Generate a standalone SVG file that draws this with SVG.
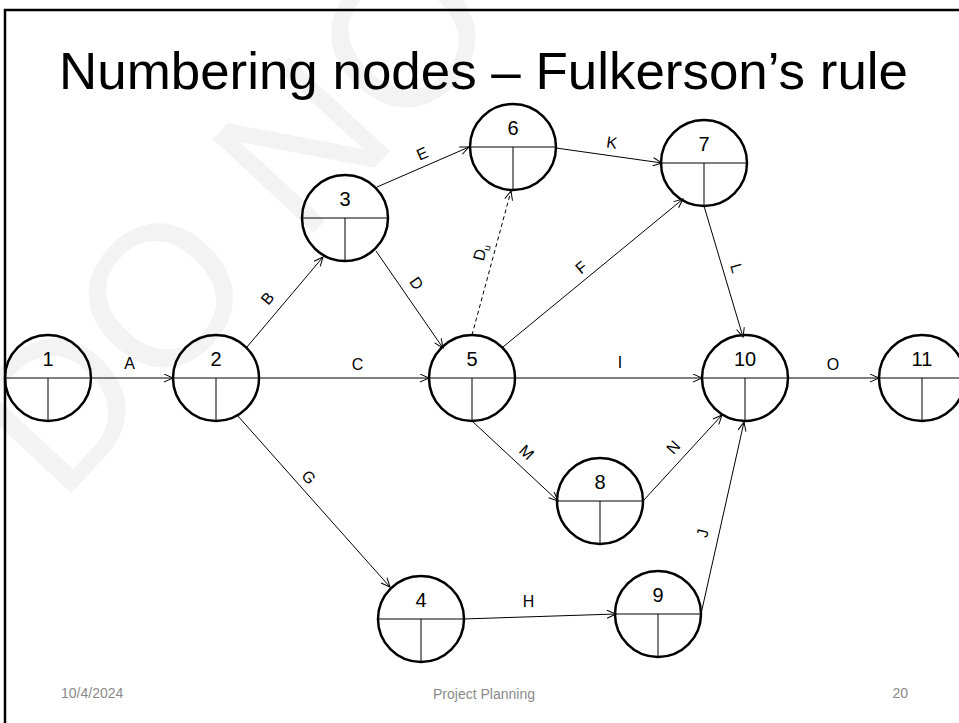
<svg xmlns="http://www.w3.org/2000/svg" width="959" height="723" viewBox="0 0 959 723">
<style>
.node circle{fill:none;stroke:#000;stroke-width:2.5}
.node line{stroke:#000;stroke-width:1}
.num{font-family:"Liberation Sans",Arial,sans-serif;font-size:20px;fill:#000;text-anchor:middle}
.edge{stroke:#000;stroke-width:1;fill:none;marker-end:url(#arr)}
.dash{stroke-dasharray:4,3}
.lbl{font-family:"Liberation Sans",Arial,sans-serif;font-size:16px;fill:#000;text-anchor:middle}
.foot{font-family:"Liberation Sans",Arial,sans-serif;font-size:14px;fill:#8a8a8a}
</style>
<defs>
<marker id="arr" markerUnits="userSpaceOnUse" markerWidth="12" markerHeight="10" refX="10" refY="4.5" orient="auto">
<path d="M1,0.5 L10,4.5 L1,8.5" fill="none" stroke="#000" stroke-width="1"/>
</marker>
</defs>
<rect width="959" height="723" fill="#fff"/>
<text transform="translate(60,505) rotate(-47)" font-family="'Liberation Sans',Arial,sans-serif" font-size="200" fill="#f3f3f3">DO NO</text>
<path d="M5,723 V10 H959" fill="none" stroke="#000" stroke-width="2.5"/>
<text x="59" y="89" font-family="'Liberation Sans',Arial,sans-serif" font-size="52" fill="#000" textLength="849" lengthAdjust="spacingAndGlyphs">Numbering nodes – Fulkerson’s rule</text>
<g id="connectors">
<line class="edge" x1="91" y1="378" x2="173" y2="378"/>
<line class="edge" x1="259" y1="378" x2="429" y2="378"/>
<line class="edge" x1="515" y1="378" x2="702" y2="378"/>
<line class="edge" x1="788" y1="378" x2="879" y2="378"/>
<line class="edge" x1="247" y1="347" x2="323" y2="257"/>
<line class="edge" x1="377" y1="187" x2="469" y2="147"/>
<line class="edge" x1="376" y1="251" x2="443" y2="348"/>
<line class="edge dash" x1="472" y1="335" x2="511" y2="191"/>
<line class="edge" x1="503" y1="347" x2="683" y2="199"/>
<line class="edge" x1="556" y1="148" x2="662" y2="163"/>
<line class="edge" x1="704" y1="206" x2="743" y2="337"/>
<line class="edge" x1="472" y1="421" x2="558" y2="501"/>
<line class="edge" x1="643" y1="501" x2="722" y2="415"/>
<line class="edge" x1="701" y1="614" x2="744" y2="422"/>
<line class="edge" x1="237" y1="415" x2="390" y2="587"/>
<line class="edge" x1="463" y1="619" x2="616" y2="614"/>
<text class="lbl" x="129.5" y="369">A</text>
<text class="lbl" x="357.5" y="370">C</text>
<text class="lbl" x="620" y="368">I</text>
<text class="lbl" x="833" y="370">O</text>
<text class="lbl" x="528.5" y="607">H</text>
<text class="lbl" transform="translate(267,298) rotate(-50)" y="6">B</text>
<text class="lbl" transform="translate(422,153) rotate(-23.5)" y="6">E</text>
<text class="lbl" transform="translate(417,283) rotate(55)" y="6">D</text>
<text class="lbl" transform="translate(480,252) rotate(-75)" y="6">D<tspan font-size="10" dy="3">u</tspan></text>
<text class="lbl" transform="translate(581,267) rotate(-39.4)" y="6">F</text>
<text class="lbl" transform="translate(612,142) rotate(8.6)" y="6">K</text>
<text class="lbl" transform="translate(737,268) rotate(73.5)" y="6">L</text>
<text class="lbl" transform="translate(527,452) rotate(43)" y="6">M</text>
<text class="lbl" transform="translate(673,447) rotate(-47.8)" y="6">N</text>
<text class="lbl" transform="translate(309,477) rotate(48.3)" y="6">G</text>
<text class="lbl" transform="translate(702,533) rotate(-77.4)" y="6">J</text>
</g>
<g id="n1" class="node"><circle cx="48" cy="378" r="43"/><line x1="5" y1="378" x2="91" y2="378"/><line x1="48" y1="378" x2="48" y2="421"/><text class="num" x="48" y="366">1</text></g>
<g id="n2" class="node"><circle cx="216" cy="378" r="43"/><line x1="173" y1="378" x2="259" y2="378"/><line x1="216" y1="378" x2="216" y2="421"/><text class="num" x="216" y="366">2</text></g>
<g id="n3" class="node"><circle cx="345" cy="218" r="43"/><line x1="302" y1="218" x2="388" y2="218"/><line x1="345" y1="218" x2="345" y2="261"/><text class="num" x="345" y="206">3</text></g>
<g id="n4" class="node"><circle cx="421" cy="619" r="43"/><line x1="378" y1="619" x2="464" y2="619"/><line x1="421" y1="619" x2="421" y2="662"/><text class="num" x="421" y="607">4</text></g>
<g id="n5" class="node"><circle cx="472" cy="378" r="43"/><line x1="429" y1="378" x2="515" y2="378"/><line x1="472" y1="378" x2="472" y2="421"/><text class="num" x="472" y="366">5</text></g>
<g id="n6" class="node"><circle cx="513" cy="147" r="43"/><line x1="470" y1="147" x2="556" y2="147"/><line x1="513" y1="147" x2="513" y2="190"/><text class="num" x="513" y="135">6</text></g>
<g id="n7" class="node"><circle cx="704" cy="163" r="43"/><line x1="661" y1="163" x2="747" y2="163"/><line x1="704" y1="163" x2="704" y2="206"/><text class="num" x="704" y="151">7</text></g>
<g id="n8" class="node"><circle cx="600" cy="501" r="43"/><line x1="557" y1="501" x2="643" y2="501"/><line x1="600" y1="501" x2="600" y2="544"/><text class="num" x="600" y="489">8</text></g>
<g id="n9" class="node"><circle cx="658" cy="614" r="43"/><line x1="615" y1="614" x2="701" y2="614"/><line x1="658" y1="614" x2="658" y2="657"/><text class="num" x="658" y="602">9</text></g>
<g id="n10" class="node"><circle cx="745" cy="378" r="43"/><line x1="702" y1="378" x2="788" y2="378"/><line x1="745" y1="378" x2="745" y2="421"/><text class="num" x="745" y="366">10</text></g>
<g id="n11" class="node"><circle cx="922" cy="378" r="43"/><line x1="879" y1="378" x2="959" y2="378"/><line x1="922" y1="378" x2="922" y2="421"/><text class="num" x="922" y="366">11</text></g>
<text class="foot" x="61" y="698">10/4/2024</text>
<text class="foot" x="484" y="699" text-anchor="middle">Project Planning</text>
<text class="foot" x="908" y="698" text-anchor="end">20</text>
</svg>
